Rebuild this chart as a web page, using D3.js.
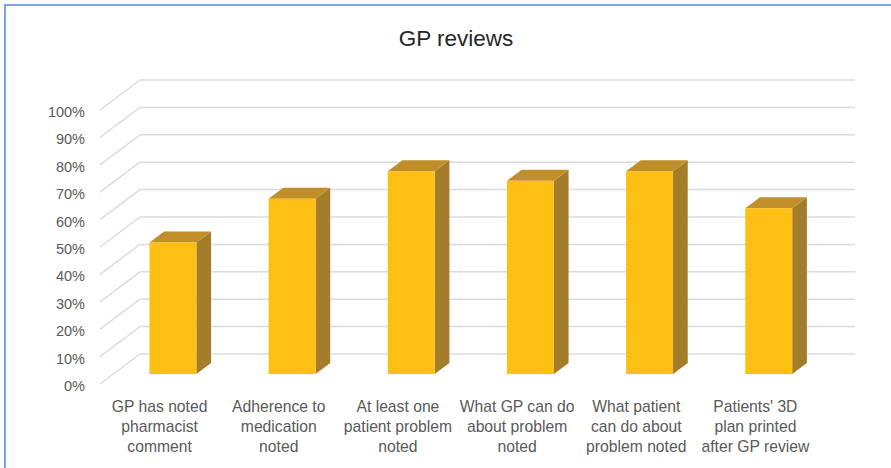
<!DOCTYPE html>
<html>
<head>
<meta charset="utf-8">
<script src="https://cdn.jsdelivr.net/npm/d3@7"></script>
<style>
  body { margin: 0; background: #fff; }
  text { font-family: "Liberation Sans", Arial, sans-serif; }
</style>
</head>
<body>
<svg id="chart" width="891" height="468"></svg>
<script>
// chart data
const categories = [
  ["GP has noted", "pharmacist", "comment"],
  ["Adherence to", "medication", "noted"],
  ["At least one", "patient problem", "noted"],
  ["What GP can do", "about problem", "noted"],
  ["What patient", "can do about", "problem noted"],
  ["Patients' 3D", "plan printed", "after GP review"]
];
const values = [0.48, 0.64, 0.74, 0.705, 0.74, 0.605];
const ticks = [0, 0.1, 0.2, 0.3, 0.4, 0.5, 0.6, 0.7, 0.8, 0.9, 1.0];

const svg = d3.select("#chart");

// fake 3d: depth t in [0,1] shifts right and up
const depthX = 40, depthY = -30;
const proj = (x, y, t) => [x + depthX * t, y + depthY * t];
const barFront = 0.333, barBack = 0.7;

const x = d3.scaleBand()
  .domain(d3.range(categories.length))
  .range([100, 815])
  .paddingInner(0.606)
  .paddingOuter(0.303);

const y = d3.scaleLinear().domain([0, 1]).range([384, 110]);

// outer frame
svg.append("rect")
  .attr("x", 5).attr("y", 5)
  .attr("width", 920).attr("height", 500)
  .attr("fill", "none")
  .attr("stroke", "#7ba7de")
  .attr("stroke-width", 2);

// title
svg.append("text")
  .attr("x", 456).attr("y", 46)
  .attr("text-anchor", "middle")
  .attr("font-size", 22.5)
  .attr("fill", "#262626")
  .text("GP reviews");

// gridlines: side wall diagonals + back wall horizontals
const grid = svg.append("g")
  .attr("stroke", "#dcdcdc")
  .attr("stroke-width", 1.5)
  .attr("fill", "none");

grid.selectAll(".diag")
  .data(ticks)
  .join("line")
  .attr("class", "diag")
  .attr("x1", 100).attr("y1", (d) => y(d))
  .attr("x2", (d) => proj(100, y(d), 1)[0])
  .attr("y2", (d) => proj(100, y(d), 1)[1]);

grid.selectAll(".back")
  .data(ticks)
  .join("line")
  .attr("class", "back")
  .attr("x1", (d) => proj(100, y(d), 1)[0])
  .attr("y1", (d) => proj(100, y(d), 1)[1])
  .attr("x2", (d) => proj(815, y(d), 1)[0])
  .attr("y2", (d) => proj(815, y(d), 1)[1]);

// y tick labels
svg.append("g")
  .selectAll("text")
  .data(ticks)
  .join("text")
  .attr("x", 85)
  .attr("y", (d) => y(d) + 2)
  .attr("dy", "0.35em")
  .attr("text-anchor", "end")
  .attr("font-size", 14.5)
  .attr("fill", "#595959")
  .text((d) => d3.format(".0%")(d));

// bars
const bars = svg.append("g")
  .selectAll("g")
  .data(values)
  .join("g");

const pts = (arr) => arr.map((p) => p.join(",")).join(" ");

bars.each(function (v, i) {
  const g = d3.select(this);
  const x0 = x(i), x1 = x(i) + x.bandwidth();
  const y0 = y(0), y1 = y(v);
  // side face
  g.append("polygon")
    .attr("points", pts([
      proj(x1, y0, barFront), proj(x1, y0, barBack),
      proj(x1, y1, barBack), proj(x1, y1, barFront)
    ]))
    .attr("fill", "#a47d2a");
  // top face
  g.append("polygon")
    .attr("points", pts([
      proj(x0, y1, barFront), proj(x1, y1, barFront),
      proj(x1, y1, barBack), proj(x0, y1, barBack)
    ]))
    .attr("fill", "#c08f2a");
  // front face
  const [fx, fy] = proj(x0, y1, barFront);
  g.append("rect")
    .attr("x", fx).attr("y", fy)
    .attr("width", x.bandwidth())
    .attr("height", y0 - y1)
    .attr("fill", "#fdbf12");
});

// category labels
svg.append("g")
  .selectAll("text")
  .data(categories)
  .join("text")
  .attr("x", (d, i) => x(i) + x.bandwidth() / 2)
  .attr("y", 412)
  .attr("text-anchor", "middle")
  .attr("font-size", 15.7)
  .attr("fill", "#595959")
  .each(function (lines) {
    d3.select(this).selectAll("tspan")
      .data(lines)
      .join("tspan")
      .attr("x", d3.select(this).attr("x"))
      .attr("dy", (d, j) => (j === 0 ? 0 : 20))
      .text((d) => d);
  });
</script>
</body>
</html>
